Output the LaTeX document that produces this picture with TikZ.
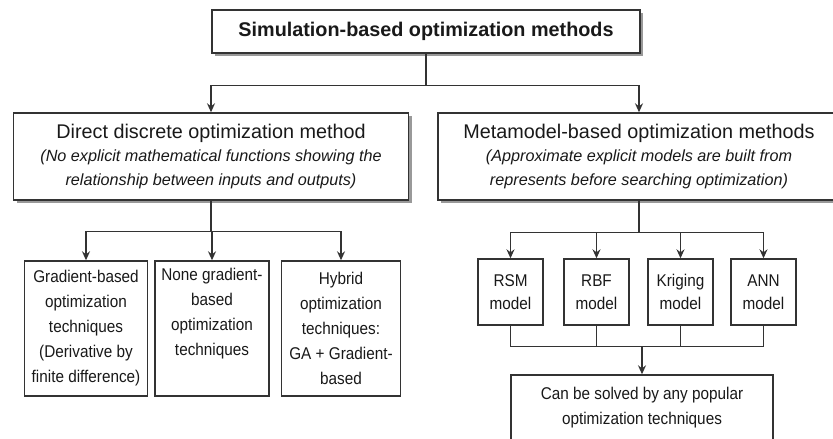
\documentclass[tikz,border=0pt]{standalone}
\usepackage{fontspec}
\setmainfont{Liberation Sans}
\newfontfamily\narrowsans[FakeStretch=0.9]{Liberation Sans}
\usetikzlibrary{arrows.meta,shadows}

\tikzset{
  box/.style={draw=black!80, line width=1.4pt, fill=white, align=center,
    inner sep=0pt, text=black!90},
  bigbox/.style={box, drop shadow={shadow xshift=3pt, shadow yshift=-3pt,
    fill=black!40, opacity=1}},
  headbox/.style={bigbox, minimum height=87pt,
    font=\fontsize{16.2}{23.5}\selectfont},
  smallbox/.style={box, font=\narrowsans\fontsize{17}{25}\selectfont},
  modelbox/.style={box, minimum width=65pt, minimum height=66pt,
    font=\narrowsans\fontsize{17}{23}\selectfont},
  arr/.style={draw=black!80, line width=1.4pt,
    -{Stealth[length=9pt, width=8pt, inset=3pt]}},
  link/.style={draw=black!80, line width=1.4pt}
}

\begin{document}
\begin{tikzpicture}[x=1pt, y=-1pt]
    \useasboundingbox (0,0) rectangle (833,439);
    \clip (0,0) rectangle (833,439);

    \node[bigbox, minimum width=428pt, minimum height=43pt,
      font=\fontsize{19.8}{24}\selectfont\bfseries] (sbo) at (426,31.5)
      {Simulation-based optimization methods};

    \node[headbox, minimum width=395pt] (direct) at (211,156.5)
      {{\fontsize{19.8}{24}\selectfont Direct discrete optimization method}\\
       \itshape (No explicit mathematical functions showing the\\
       \itshape relationship between inputs and outputs)};
    \node[headbox, minimum width=402pt] (meta) at (639,156.5)
      {{\fontsize{19.8}{24}\selectfont Metamodel-based optimization methods}\\
       \itshape (Approximate explicit models are built from\\
       \itshape represents before searching optimization)};

    \node[smallbox, minimum width=123pt, minimum height=135pt] (grad) at (86,328.5)
      {Gradient-based\\optimization\\techniques\\(Derivative by\\finite difference)};
    \node[smallbox, minimum width=114pt, minimum height=135pt] (nongrad) at (212,328.5)
      {None gradient-\\based\\optimization\\techniques\\ \strut};
    \node[smallbox, minimum width=119pt, minimum height=135pt] (hybrid) at (341,328.5)
      {Hybrid\\optimization\\techniques:\\GA + Gradient-\\based};

    \node[modelbox] (rsm) at (510.5,292) {RSM\\model};
    \node[modelbox] (rbf) at (596.5,292) {RBF\\model};
    \node[modelbox] (krig) at (680.5,292) {Kriging\\model};
    \node[modelbox] (ann) at (763.5,292) {ANN\\model};

    \node[smallbox, minimum width=262pt, minimum height=66pt] (solve) at (642,408)
      {Can be solved by any popular\\optimization techniques};

    \draw[arr] (sbo.south) -- ++(0,32) -| (direct.north);
    \draw[arr] (sbo.south) -- ++(0,32) -| (meta.north);

    \foreach \n in {grad,nongrad,hybrid}
      \draw[arr] (direct.south) -- ++(0,31) -| (\n.north);
    \foreach \n in {rsm,rbf,krig,ann}
      \draw[arr] (meta.south) -- ++(0,32) -| (\n.north);

    \draw[link] (rsm.south) -- ++(0,21) -| (ann.south);
    \draw[link] (rbf.south) -- ++(0,21);
    \draw[link] (krig.south) -- ++(0,21);
    \draw[arr] (solve.north |- rbf.south) ++(0,21) -- (solve.north);
\end{tikzpicture}
\end{document}
